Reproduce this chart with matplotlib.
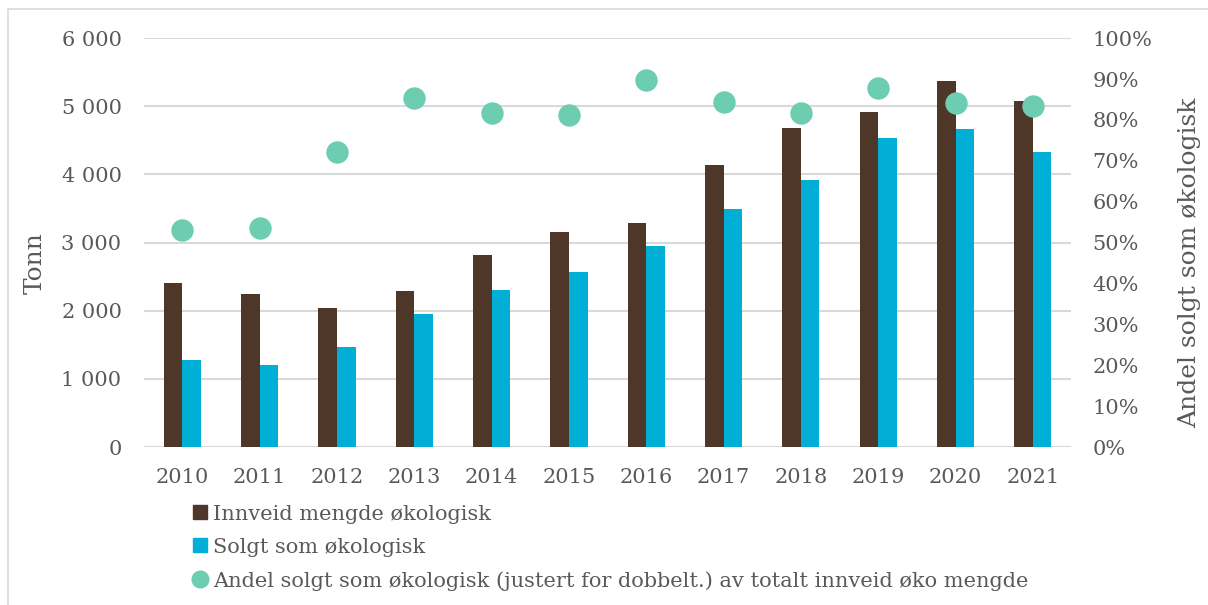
import matplotlib.pyplot as plt
import numpy as np
from matplotlib.patches import Rectangle
from matplotlib.lines import Line2D
from matplotlib.ticker import FuncFormatter

plt.rcParams['font.family'] = ['DejaVu Serif']

years = ['2010', '2011', '2012', '2013', '2014', '2015',
         '2016', '2017', '2018', '2019', '2020', '2021']
innveid = [2410, 2245, 2040, 2290, 2815, 3155, 3290, 4140, 4680, 4915, 5365, 5075]
solgt = [1275, 1205, 1470, 1950, 2305, 2565, 2950, 3490, 3920, 4535, 4670, 4330]
andel = [0.531, 0.535, 0.721, 0.853, 0.817, 0.812, 0.897, 0.844, 0.817, 0.878, 0.841, 0.834]

brown = '#4E3629'
blue = '#00AED6'
green = '#6DCDB1'
txt = '#595959'

fig = plt.figure(figsize=(12.08, 6.05), dpi=100)
ax = fig.add_axes([0.119, 0.261, 0.768, 0.676])
x = np.arange(len(years))
w = 0.24
ax.bar(x - w / 2, innveid, w, color=brown, zorder=3)
ax.bar(x + w / 2, solgt, w, color=blue, zorder=3)
ax.set_ylim(0, 6000)
ax.set_xlim(-0.5, len(years) - 0.5)
ax.set_yticks(range(0, 6001, 1000))
ax.yaxis.set_major_formatter(FuncFormatter(lambda v, p: f'{int(v):,}'.replace(',', ' ')))
ax.set_xticks(x)
ax.set_xticklabels(years)
ax.grid(axis='y', color='#D9D9D9', linewidth=1.5, zorder=0)
for s in ax.spines.values():
    s.set_visible(False)
ax.tick_params(length=0, labelsize=15, colors=txt)
ax.tick_params(axis='x', pad=15)
ax.tick_params(axis='y', pad=16)
ax.set_ylabel('Tonn', fontsize=18, color=txt)
ax.yaxis.set_label_coords(-0.105, 0.45)

ax2 = ax.twinx()
ax2.scatter(x, andel, s=260, color=green, zorder=4, linewidths=0)
ax2.set_ylim(0, 1)
ax2.set_yticks(np.arange(0, 1.01, 0.1))
ax2.yaxis.set_major_formatter(FuncFormatter(lambda v, p: f'{v * 100:.0f}%'))
for s in ax2.spines.values():
    s.set_visible(False)
ax2.tick_params(length=0, labelsize=15, colors=txt, pad=15)
ax2.set_ylabel('Andel solgt som økologisk', fontsize=18, color=txt)
ax2.yaxis.set_label_coords(1.115, 0.45)

handles = [
    Rectangle((0, 0), 1, 1, color=brown),
    Rectangle((0, 0), 1, 1, color=blue),
    Line2D([], [], marker='o', linestyle='', color=green, markersize=12),
]
labels = ['Innveid mengde økologisk', 'Solgt som økologisk',
          'Andel solgt som økologisk (justert for dobbelt.) av totalt innveid øko mengde']
fig.legend(handles, labels, loc='upper left', bbox_to_anchor=(0.16, 0.166),
           frameon=False, fontsize=15, labelcolor=txt, handlelength=0.65,
           handleheight=0.65, handletextpad=0.3, labelspacing=0.68,
           borderpad=0, borderaxespad=0)

fig.patches.append(Rectangle((0.007, -0.05), 1.1, 1.035, transform=fig.transFigure,
                             fill=False, edgecolor='#D9D9D9', linewidth=1.2))

fig.savefig('out.png', dpi=100)
